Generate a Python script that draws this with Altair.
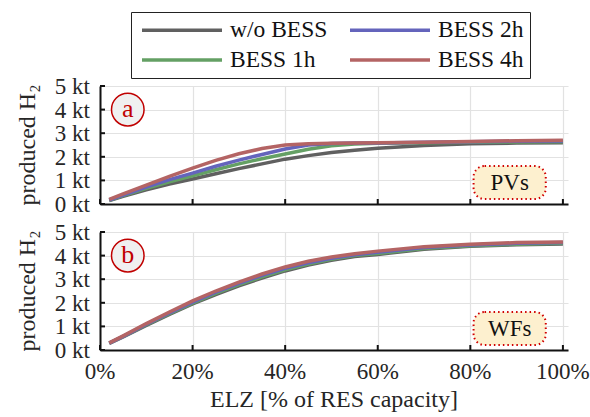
import altair as alt
import pandas as pd

# ---- data ----
x_pct = [2, 5, 10, 15, 20, 25, 30, 35, 40, 45, 50, 55, 60, 70, 80, 90, 100]
series = ["w/o BESS", "BESS 1h", "BESS 2h", "BESS 4h"]

pv_wo = [0.15, 0.33, 0.60, 0.85, 1.06, 1.28, 1.50, 1.70, 1.90, 2.05, 2.18, 2.28, 2.36, 2.48, 2.55, 2.58, 2.60]
pv_1h = [0.16, 0.36, 0.66, 0.94, 1.19, 1.45, 1.70, 1.92, 2.12, 2.32, 2.47, 2.54, 2.57, 2.60, 2.62, 2.63, 2.64]
pv_2h = [0.17, 0.38, 0.72, 1.03, 1.31, 1.60, 1.86, 2.10, 2.33, 2.50, 2.56, 2.58, 2.59, 2.62, 2.64, 2.66, 2.67]
pv_4h = [0.20, 0.43, 0.80, 1.17, 1.52, 1.85, 2.13, 2.35, 2.50, 2.55, 2.57, 2.58, 2.60, 2.62, 2.65, 2.68, 2.70]

wf_wo = [0.28, 0.55, 1.04, 1.51, 1.95, 2.35, 2.72, 3.05, 3.35, 3.60, 3.80, 3.96, 4.05, 4.27, 4.40, 4.46, 4.49]
wf_1h = [0.29, 0.57, 1.07, 1.54, 1.99, 2.40, 2.77, 3.10, 3.40, 3.64, 3.84, 4.00, 4.09, 4.30, 4.42, 4.48, 4.52]
wf_2h = [0.29, 0.58, 1.09, 1.57, 2.03, 2.45, 2.82, 3.16, 3.46, 3.70, 3.89, 4.04, 4.14, 4.34, 4.45, 4.52, 4.55]
wf_4h = [0.30, 0.60, 1.12, 1.61, 2.08, 2.50, 2.88, 3.22, 3.52, 3.76, 3.94, 4.08, 4.19, 4.38, 4.48, 4.55, 4.58]

x_ticks = [0, 20, 40, 60, 80, 100]
x_labels = ["0%", "20%", "40%", "60%", "80%", "100%"]
y_ticks = [0, 1, 2, 3, 4, 5]
y_labels = ["0 kt", "1 kt", "2 kt", "3 kt", "4 kt", "5 kt"]
y_title = "produced H\u2082"
x_title = "ELZ [% of RES capacity]"

letter_pos = (6.0, 4.0)
box_x = (80.7, 96.3)
box_y = (0.21, 1.61)
box_text_pos = (88.5, 0.9)

colors = ["#606060", "#64a064", "#6464bc", "#b46464"]
legend_order = ["w/o BESS", "BESS 1h", "BESS 2h", "BESS 4h"]
color_map = dict(zip(series, colors))

FONT = "Liberation Serif"
TXT = "#262626"
W, H = 468, 118
TICK = 5


def make_df(vals):
    rows = []
    for i, (s, v) in enumerate(zip(series, vals)):
        for x, y in zip(x_pct, v):
            rows.append({"x": x, "y": y, "series": s, "ord": i})
    return pd.DataFrame(rows)


def panel(vals, letter, boxlabel, show_x):
    df = make_df(vals)
    xaxis = alt.Axis(values=x_ticks, grid=True, ticks=False, labels=False, title=None)
    yaxis = alt.Axis(values=y_ticks, grid=True, ticks=False, labels=False, title=None)
    xs = alt.Scale(domain=[0, 101.1], nice=False, zero=False)
    ys = alt.Scale(domain=[0, 5], nice=False)
    X = lambda f: alt.X(f, scale=xs, axis=xaxis)
    Y = lambda f: alt.Y(f, scale=ys, axis=yaxis)

    lines = alt.Chart(df).mark_line(strokeWidth=3.5).encode(
        x=X("x:Q"),
        y=Y("y:Q"),
        color=alt.Color("series:N",
                        scale=alt.Scale(domain=legend_order,
                                        range=[color_map[s] for s in legend_order]),
                        legend=alt.Legend(title=None, columns=2, orient="none",
                                          legendX=31, legendY=-74,
                                          symbolType="M-4,0H4", symbolSize=400,
                                          symbolOffset=33,
                                          symbolStrokeWidth=3.5, labelFontSize=23.5,
                                          labelFont=FONT, labelColor="#111111",
                                          strokeColor="#222222", fillColor="white",
                                          padding=6, columnPadding=15, rowPadding=6,
                                          labelOffset=36)),
        order=alt.Order("ord:Q"),
    )

    # inward tick marks at the axis tick values
    xt = alt.Chart(pd.DataFrame({"v": x_ticks})).mark_rule(color="#111111", strokeWidth=2).encode(
        x=X("v:Q"), y=alt.value(H), y2=alt.value(H - TICK))
    yt = alt.Chart(pd.DataFrame({"v": y_ticks})).mark_rule(color="#111111", strokeWidth=2).encode(
        y=Y("v:Q"), x=alt.value(0), x2=alt.value(TICK))

    # axis labels / titles as text marks (serif font)
    ylab = alt.Chart(pd.DataFrame({"v": y_ticks, "lab": y_labels})).mark_text(
        font=FONT, fontSize=23, color=TXT, align="right", baseline="middle", dy=1).encode(
        y=Y("v:Q"), x=alt.value(-10), text="lab:N")
    ytit = alt.Chart(pd.DataFrame({"t": [y_title]})).mark_text(
        font=FONT, fontSize=24, color=TXT, angle=270, align="center", baseline="middle").encode(
        x=alt.value(-72), y=alt.value(H / 2), text="t:N")

    ann = pd.DataFrame({"x": [letter_pos[0]], "y": [letter_pos[1]], "t": [letter],
                        "bx": [box_x[0]], "bx2": [box_x[1]],
                        "by": [box_y[0]], "by2": [box_y[1]],
                        "tx": [box_text_pos[0]], "ty": [box_text_pos[1]], "bt": [boxlabel]})
    base = alt.Chart(ann)
    circ = base.mark_circle(size=1060, color="#f0f0f0", opacity=1,
                            stroke="#c00000", strokeWidth=1.5).encode(
        x=X("x:Q"), y=Y("y:Q"))
    ctext = base.mark_text(font=FONT, fontSize=26, color="#c00000", dy=-1).encode(
        x=X("x:Q"), y=Y("y:Q"), text="t:N")
    box = base.mark_rect(cornerRadius=11, fill="#fdf0cf", stroke="#d00000",
                         strokeDash=[1.5, 3], strokeWidth=2).encode(
        x=X("bx:Q"), x2="bx2:Q", y=Y("by:Q"), y2="by2:Q")
    btext = base.mark_text(font=FONT, fontSize=23, color="#111111").encode(
        x=X("tx:Q"), y=Y("ty:Q"), text="bt:N")

    layers = [lines, xt, yt, ylab, ytit, circ, ctext, box, btext]
    if show_x:
        xlab = alt.Chart(pd.DataFrame({"v": x_ticks, "lab": x_labels})).mark_text(
            font=FONT, fontSize=23, color=TXT, align="center", baseline="middle").encode(
            x=X("v:Q"), y=alt.value(H + 22), text="lab:N")
        xtit = alt.Chart(pd.DataFrame({"t": [x_title]})).mark_text(
            font=FONT, fontSize=24, color=TXT, align="center", baseline="middle").encode(
            x=alt.value(W / 2), y=alt.value(H + 50), text="t:N")
        layers += [xlab, xtit]
    return alt.layer(*layers).properties(width=W, height=H)


top = panel([pv_wo, pv_1h, pv_2h, pv_4h], "a", "PVs", False)
bot = panel([wf_wo, wf_1h, wf_2h, wf_4h], "b", "WFs", True)

chart = alt.vconcat(top, bot, spacing=28, bounds="flush").properties(
    padding={"left": 16, "top": 11, "right": 0, "bottom": 4}
).configure_view(stroke=None).configure_axis(
    domainColor="#111111", domainWidth=2, gridColor="#e2e2e2", gridWidth=1.2,
)

chart.save("out.html", embed_options={"renderer": "svg", "actions": False})
